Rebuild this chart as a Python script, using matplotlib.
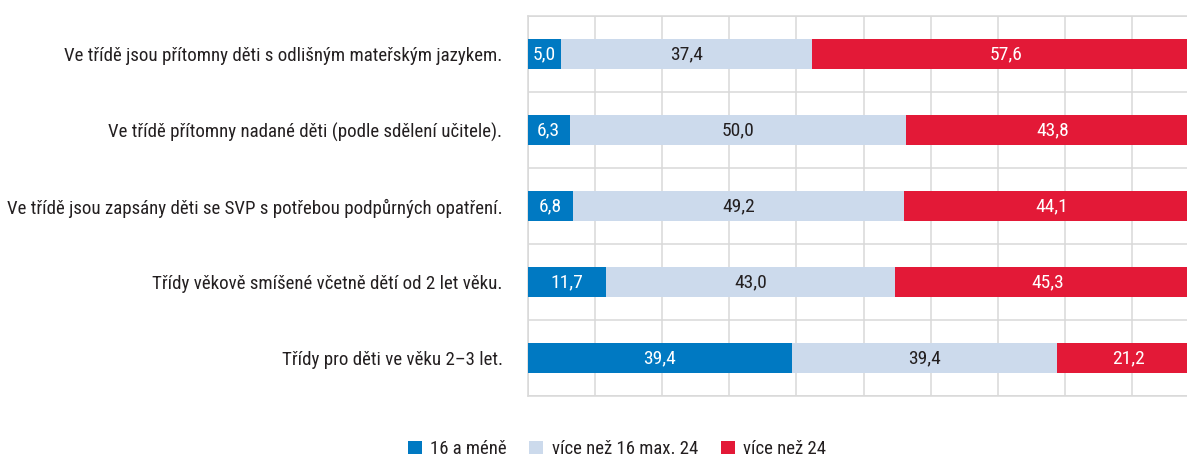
import matplotlib
matplotlib.use("Agg")
import matplotlib.pyplot as plt
from matplotlib.patches import Patch
from matplotlib import font_manager

names = {f.name for f in font_manager.fontManager.ttflist}
FONT = ["Roboto", "DejaVu Sans"]
for cand in ["Roboto Condensed", "Liberation Sans Narrow", "Open Sans Condensed", "Noto Sans Condensed"]:
    if cand in names:
        FONT = [cand, "DejaVu Sans"]
        break
plt.rcParams['font.family'] = FONT

categories = [
    "Ve třídě jsou přítomny děti s odlišným mateřským jazykem.",
    "Ve třídě přítomny nadané děti (podle sdělení učitele).",
    "Ve třídě jsou zapsány děti se SVP s potřebou podpůrných opatření.",
    "Třídy věkově smíšené včetně dětí od 2 let věku.",
    "Třídy pro děti ve věku 2–3 let.",
]
series_names = ["16 a méně", "více než 16 max. 24", "více než 24"]
s_low = [5.0, 6.3, 6.8, 11.7, 39.4]
s_mid = [37.4, 50.0, 49.2, 43.0, 39.4]
s_high = [57.6, 43.8, 44.1, 45.3, 21.2]

colors = ["#0079C2", "#CCDAEC", "#E31937"]
text_colors = ["white", "#231F20", "white"]

W, H = 1187, 457
fig = plt.figure(figsize=(W / 100, H / 100), dpi=100)
ax = fig.add_axes([527.5 / W, 61 / H, 672 / W, 380 / H])

y = list(range(len(categories)))
left = [0.0] * len(categories)
for vals, col, tcol in zip([s_low, s_mid, s_high], colors, text_colors):
    ax.barh(y, vals, left=left, height=0.4, color=col, zorder=3)
    for yi, l, v in zip(y, left, vals):
        ax.text(l + v / 2, yi, f"{v:.1f}".replace(".", ","), ha="center", va="center",
                color=tcol, fontsize=14, zorder=4)
    left = [a + b for a, b in zip(left, vals)]

ax.set_xlim(0, 100)
ax.set_ylim(len(categories) - 0.5, -0.5)
ax.set_xticks(range(0, 101, 10))
ax.set_yticks([i - 0.5 for i in range(len(categories) + 1)], minor=False)
ax.set_yticklabels([])
ax.set_yticks(y, minor=True)
ax.set_yticklabels(categories, minor=True, fontsize=13.6, color="#231F20")
ax.tick_params(axis="y", which="both", length=0, pad=18)
ax.tick_params(axis="x", length=0, labelbottom=False)
ax.grid(True, which="major", color="#D9D9D9", linewidth=1.1, zorder=0)
for sp in ax.spines.values():
    sp.set_color("#D9D9D9")
    sp.set_linewidth(1.1)

handles = [Patch(facecolor=c, edgecolor="none") for c in colors]
fig.legend(handles, series_names, loc="center", bbox_to_anchor=(617 / W, 1 - 449 / H),
           ncol=3, frameon=False, fontsize=13.5, handlelength=0.75, handleheight=0.75,
           handletextpad=0.45, columnspacing=1.2, labelcolor="#231F20")

fig.savefig("out.png", dpi=100)
